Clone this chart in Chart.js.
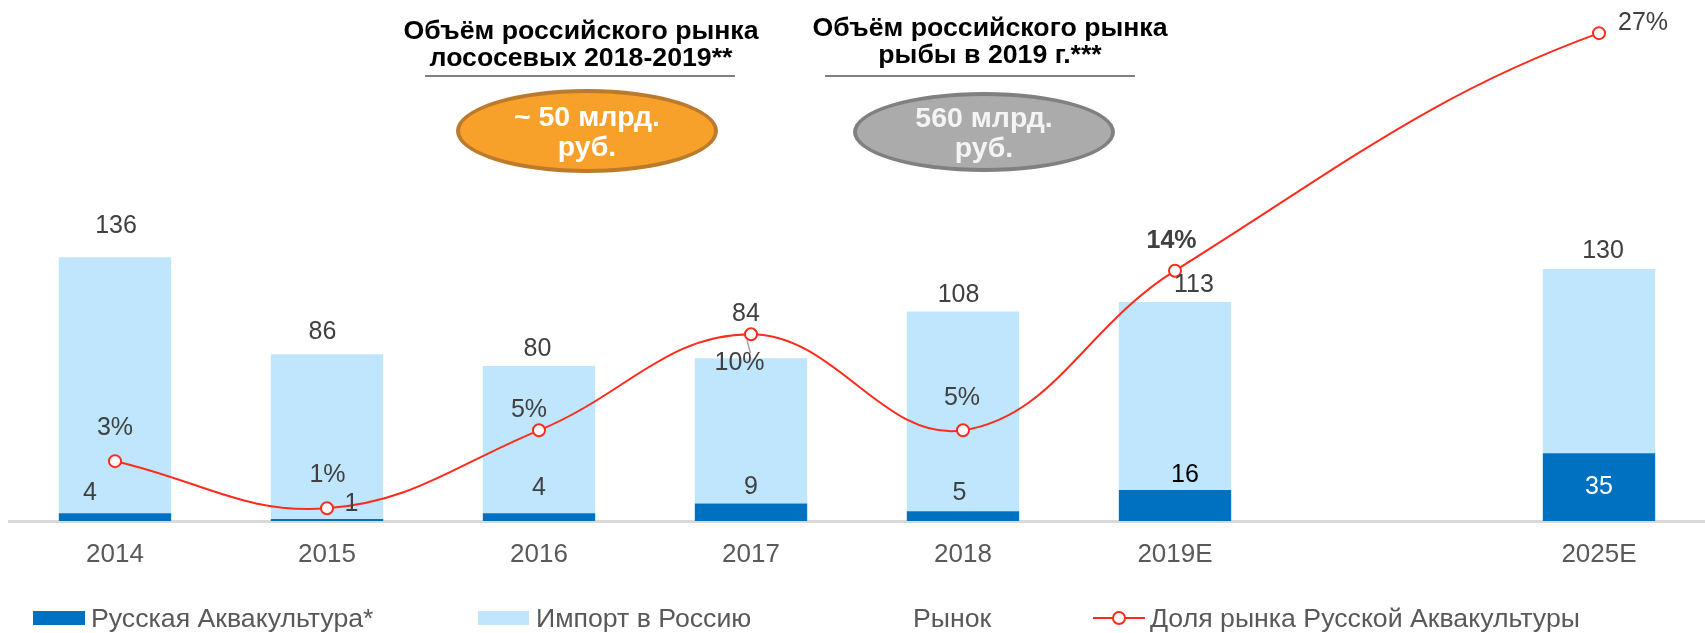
<!DOCTYPE html>
<html>
<head>
<meta charset="utf-8">
<script src="https://cdn.jsdelivr.net/npm/chart.js@4.4.1/dist/chart.umd.min.js"></script>
<style>
html,body{margin:0;padding:0;overflow:hidden;background:#fff;width:1705px;height:633px;}
#wrap{position:relative;width:1705px;height:633px;overflow:hidden;font-family:'Liberation Sans',Arial,sans-serif;}
#c{position:absolute;left:0;top:0;}
.title{position:absolute;font-weight:bold;font-size:26.7px;line-height:26.5px;color:#000;text-align:center;white-space:nowrap;}
.rule{position:absolute;height:2px;background:#808080;}
.oval{position:absolute;box-sizing:border-box;border-radius:50%;border:4px solid;display:flex;align-items:center;justify-content:center;text-align:center;color:#fff;font-weight:bold;font-size:28.5px;line-height:30px;}
.leg{position:absolute;font-size:26.7px;line-height:30px;color:#595959;white-space:nowrap;top:603px;}
.sw{position:absolute;top:611px;height:14px;}
</style>
</head>
<body>
<div id="wrap">
  <canvas id="c" width="1713" height="633" style="width:1713px;height:633px"></canvas>

  <div class="title" style="left:381px;top:17px;width:400px;">Объём российского рынка<br>лососевых 2018-2019**</div>
  <div class="rule" style="left:425px;top:75px;width:310px;"></div>
  <div class="oval" style="left:456px;top:89px;width:262px;height:84px;background:#F7A12B;border-color:#BB7A2C;">~ 50 млрд.<br>руб.</div>

  <div class="title" style="left:790px;top:14px;width:400px;">Объём российского рынка<br>рыбы в 2019 г.***</div>
  <div class="rule" style="left:825px;top:75px;width:310px;"></div>
  <div class="oval" style="left:853px;top:92px;width:262px;height:80px;background:#ABABAB;border-color:#808080;color:#F4F4F4;">560 млрд.<br>руб.</div>

  <div class="sw" style="left:33px;width:52px;background:#0070C0;"></div>
  <div class="leg" style="left:91px;">Русская Аквакультура*</div>
  <div class="sw" style="left:478px;width:51px;background:#BFE6FC;"></div>
  <div class="leg" style="left:536px;">Импорт в Россию</div>
  <div class="leg" style="left:913px;">Рынок</div>
  <div style="position:absolute;left:1093px;top:617px;width:52px;height:2px;background:#FF2B1C;"></div>
  <div style="position:absolute;left:1112px;top:611px;width:14px;height:14px;box-sizing:border-box;border:2px solid #FF2B1C;border-radius:50%;background:#fff;"></div>
  <div class="leg" style="left:1150px;">Доля рынка Русской Аквакультуры</div>
</div>

<script>
// ---- data ----
const categories = ['2014', '2015', '2016', '2017', '2018', '2019E', '', '2025E'];
const aquaculture = [4, 1, 4, 9, 5, 16, null, 35];
const imports = [132, 85, 76, 75, 103, 97, null, 95];
const market = [136, 86, 80, 84, 108, 113, null, 130];
const share = [3.3, 0.7, 5.0, 10.3, 5.0, 13.8, null, 26.9];

const FONT = "'Liberation Sans', Arial, sans-serif";

// flattens the incoming tangent at the last point of the smoothed line (Excel-like end shape)
const endCurvePlugin = {
  id: 'endCurve',
  beforeDatasetDraw(chart, args, opts) {
    if (args.index !== 2) return;
    const line = args.meta.dataset;
    line.updateControlPoints(chart.chartArea, 'x');
    const pts = args.meta.data.filter(p => !p.skip);
    const last = pts[pts.length - 1], prev = pts[pts.length - 2];
    last.cp1y = last.y + (prev.y - last.y) * opts.endFlat;
    line._path = undefined;
  }
};

const labelPlugin = {
  id: 'valueLabels',
  afterDatasetsDraw(chart, args, opts) {
    const ctx = chart.ctx;
    const aq = chart.getDatasetMeta(0).data;
    const im = chart.getDatasetMeta(1).data;
    const ln = chart.getDatasetMeta(2).data;
    ctx.save();
    ctx.textAlign = 'center';
    ctx.textBaseline = 'middle';

    const L = opts.leader;
    const lp = ln[L.index];
    ctx.strokeStyle = '#A6A6A6';
    ctx.lineWidth = 1.5;
    ctx.beginPath();
    ctx.moveTo(lp.x + L.from[0], lp.y + L.from[1]);
    ctx.lineTo(lp.x + L.to[0], lp.y + L.to[1]);
    ctx.stroke();

    for (let i = 0; i < categories.length; i++) {
      if (market[i] == null) continue;
      let o = opts.marketOff[i];
      ctx.font = `${opts.size}px ${FONT}`;
      ctx.fillStyle = '#404040';
      ctx.fillText(String(market[i]), im[i].x + o[0], im[i].y + o[1]);
      o = opts.aquaOff[i];
      ctx.fillStyle = opts.aquaColor[i];
      ctx.fillText(String(aquaculture[i]), aq[i].x + o[0], aq[i].y + o[1]);
      o = opts.shareOff[i];
      ctx.fillStyle = '#404040';
      ctx.font = `${opts.shareBold[i] ? 'bold ' : ''}${opts.size}px ${FONT}`;
      ctx.fillText(Math.round(share[i]) + '%', ln[i].x + o[0], ln[i].y + o[1]);
    }
    ctx.restore();
  }
};

new Chart(document.getElementById('c'), {
  type: 'bar',
  data: {
    labels: categories,
    datasets: [
      {
        label: 'Русская Аквакультура*',
        data: aquaculture,
        backgroundColor: '#0070C0',
        stack: 's',
        yAxisID: 'y',
        order: 1
      },
      {
        label: 'Импорт в Россию',
        data: imports,
        backgroundColor: '#BFE6FC',
        stack: 's',
        yAxisID: 'y',
        order: 1
      },
      {
        type: 'line',
        label: 'Доля рынка Русской Аквакультуры',
        data: share,
        yAxisID: 'y2',
        borderColor: '#FF2B1C',
        borderWidth: 2,
        pointRadius: 6,
        pointBorderWidth: 2,
        pointBackgroundColor: '#FFFFFF',
        pointBorderColor: '#FF2B1C',
        tension: 0.4,
        spanGaps: true,
        order: 0
      }
    ]
  },
  options: {
    responsive: false,
    animation: false,
    devicePixelRatio: 1,
    layout: { padding: { left: 9, right: 0, top: 15, bottom: 0 } },
    datasets: { bar: { categoryPercentage: 1, barPercentage: 0.53 } },
    scales: {
      x: {
        offset: true,
        grid: { display: false, drawTicks: false },
        border: { display: true, color: '#D9D9D9', width: 3 },
        ticks: { color: '#595959', font: { family: FONT, size: 26 }, padding: 18, maxRotation: 0, autoSkip: false },
        afterFit(scale) { scale.height = 112; }
      },
      y: { display: false, stacked: true, min: 0, max: 261 },
      y2: { display: false, min: 0, max: 27.9, position: 'right' }
    },
    plugins: {
      legend: { display: false },
      tooltip: { enabled: false },
      endCurve: { endFlat: 0.26 },
      valueLabels: {
        size: 25,
        marketOff: [[1, -31.6], [-4.5, -22.4], [-1.5, -16.4], [-5, -43.8], [-4.5, -16.5], [19, -17], null, [4, -17.8]],
        aquaOff: [[-25, -20.5], [24.5, -15], [0, -24.7], [0, -16.8], [-3.5, -18], [10, -15], null, [0, 34]],
        aquaColor: ['#404040', '#404040', '#404040', '#404040', '#404040', '#000000', null, '#FFFFFF'],
        shareOff: [[0, -33], [0.5, -33], [-10, -20], [-11.5, 28.5], [-1, -32.5], [-3.5, -30], null, [44, -10]],
        shareBold: [false, false, false, false, false, true, false, false],
        leader: { index: 3, from: [-4, 6], to: [-0.5, 19] }
      }
    }
  },
  plugins: [endCurvePlugin, labelPlugin]
});
</script>
</body>
</html>
